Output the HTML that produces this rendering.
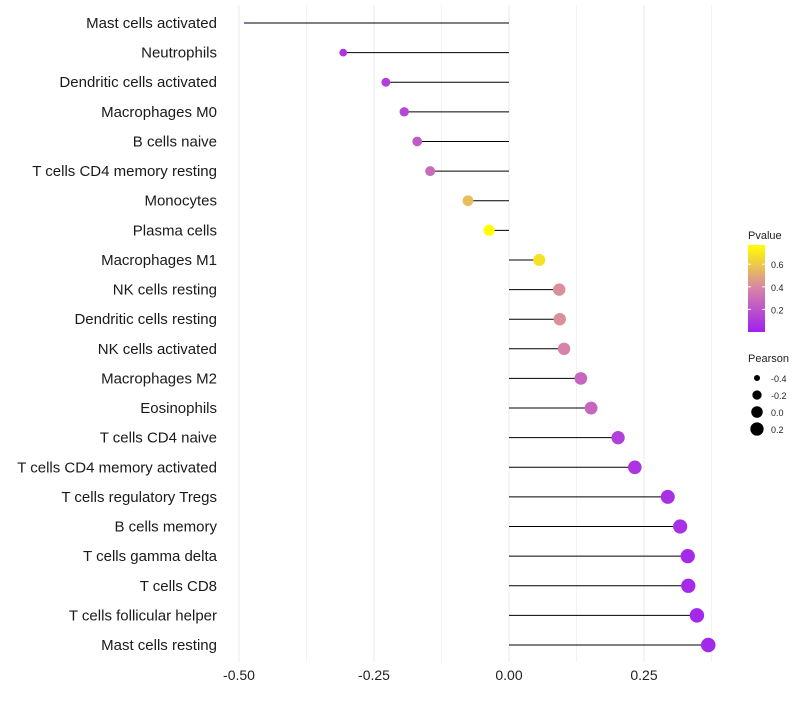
<!DOCTYPE html>
<html><head><meta charset="utf-8"><style>
body{margin:0;background:#fff;font-family:"Liberation Sans",sans-serif}
</style></head><body>
<svg id="c" width="800" height="700" xmlns="http://www.w3.org/2000/svg"></svg>
<script>
const categories=["Mast cells activated","Neutrophils","Dendritic cells activated","Macrophages M0","B cells naive","T cells CD4 memory resting","Monocytes","Plasma cells","Macrophages M1","NK cells resting","Dendritic cells resting","NK cells activated","Macrophages M2","Eosinophils","T cells CD4 naive","T cells CD4 memory activated","T cells regulatory  Tregs ","B cells memory","T cells gamma delta","T cells CD8","T cells follicular helper","Mast cells resting"];
const pearson=[-0.489,-0.307,-0.228,-0.194,-0.170,-0.146,-0.076,-0.037,0.056,0.093,0.094,0.102,0.133,0.152,0.202,0.233,0.294,0.317,0.331,0.332,0.348,0.369];
const pvalue=[0.02,0.08,0.12,0.15,0.22,0.28,0.56,0.78,0.68,0.42,0.42,0.38,0.27,0.27,0.12,0.08,0.06,0.06,0.04,0.04,0.03,0.03];
const xTicks=[-0.5,-0.25,0,0.25];
const xTickLabels=["-0.50","-0.25","0.00","0.25"];
const pTicks=[0.2,0.4,0.6];
const sizeTicks=[-0.4,-0.2,0.0,0.2];
const sizeTickLabels=["-0.4","-0.2","0.0","0.2"];
const svg=document.getElementById('c');const NS="http://www.w3.org/2000/svg";
const x=v=>509+540*v;
const y=i=>23+i*(622/21);
const pmin=-0.489,pmax=0.369;
const r=v=>1+6.3*Math.sqrt(Math.max(0,(v-pmin)/(pmax-pmin)));
function lerp(a,b,t){return a.map((c,i)=>Math.round(c+(b[i]-c)*t));}
function col(p){const t=Math.min(1,Math.max(0,p/0.77));const A=[160,32,240],M=[214,132,168],B=[255,255,0];
 const c=t<0.5?lerp(A,M,t*2):lerp(M,B,(t-0.5)*2);return `rgb(${c})`;}
function el(t,a,p){const e=document.createElementNS(NS,t);for(const k in a)e.setAttribute(k,a[k]);(p||svg).appendChild(e);return e;}
[-0.5,-0.375,-0.25,-0.125,0,0.125,0.25,0.375].forEach(v=>{const g=el('line',{x1:x(v),x2:x(v),y1:5,y2:662,stroke:'#ebebeb','stroke-width':Number.isInteger(v*4)?1:0.6});

});
xTicks.forEach((v,i)=>{const t=el('text',{x:x(v),y:680,'text-anchor':'middle','font-size':14,fill:'#222'});t.textContent=xTickLabels[i];

});
categories.forEach((c,i)=>{
 const t=el('text',{x:217,y:y(i)+5,'text-anchor':'end','font-size':15,fill:'#1a1a1a'});t.textContent=c;
 
 
 const l=el('line',{x1:x(0),x2:x(pearson[i]),y1:y(i),y2:y(i),stroke:'#000','stroke-width':1});
 
 
 const d=el('circle',{cx:x(pearson[i]),cy:y(i),r:r(pearson[i]),fill:col(pvalue[i])});
 
 
});
const defs=el('defs',{});const gr=el('linearGradient',{id:'pg',x1:0,y1:1,x2:0,y2:0},defs);
[[0,'#a020f0'],[0.5,'#d684a8'],[1,'#ffff00']].forEach(s=>el('stop',{offset:s[0],'stop-color':s[1]},gr));
const lt=el('text',{x:748,y:239,'font-size':11,fill:'#222'});lt.textContent='Pvalue';


const bar=el('rect',{x:748,y:245,width:17,height:87,fill:'url(#pg)'});


const py=p=>332-(p/0.77)*87;
pTicks.forEach(p=>{el('line',{x1:748,x2:751,y1:py(p),y2:py(p),stroke:'#fff'});el('line',{x1:762,x2:765,y1:py(p),y2:py(p),stroke:'#fff'});
const t=el('text',{x:771,y:py(p)+4,'font-size':9,fill:'#222'});t.textContent=p.toFixed(1);

});
const st=el('text',{x:748,y:362,'font-size':11,fill:'#222'});st.textContent='Pearson';


sizeTicks.forEach((v,i)=>{const cy=378+i*17;const d=el('circle',{cx:757,cy:cy,r:r(v),fill:'#000'});


const t=el('text',{x:771,y:cy+4,'font-size':9,fill:'#222'});t.textContent=sizeTickLabels[i];

});
</script>
</body></html>
